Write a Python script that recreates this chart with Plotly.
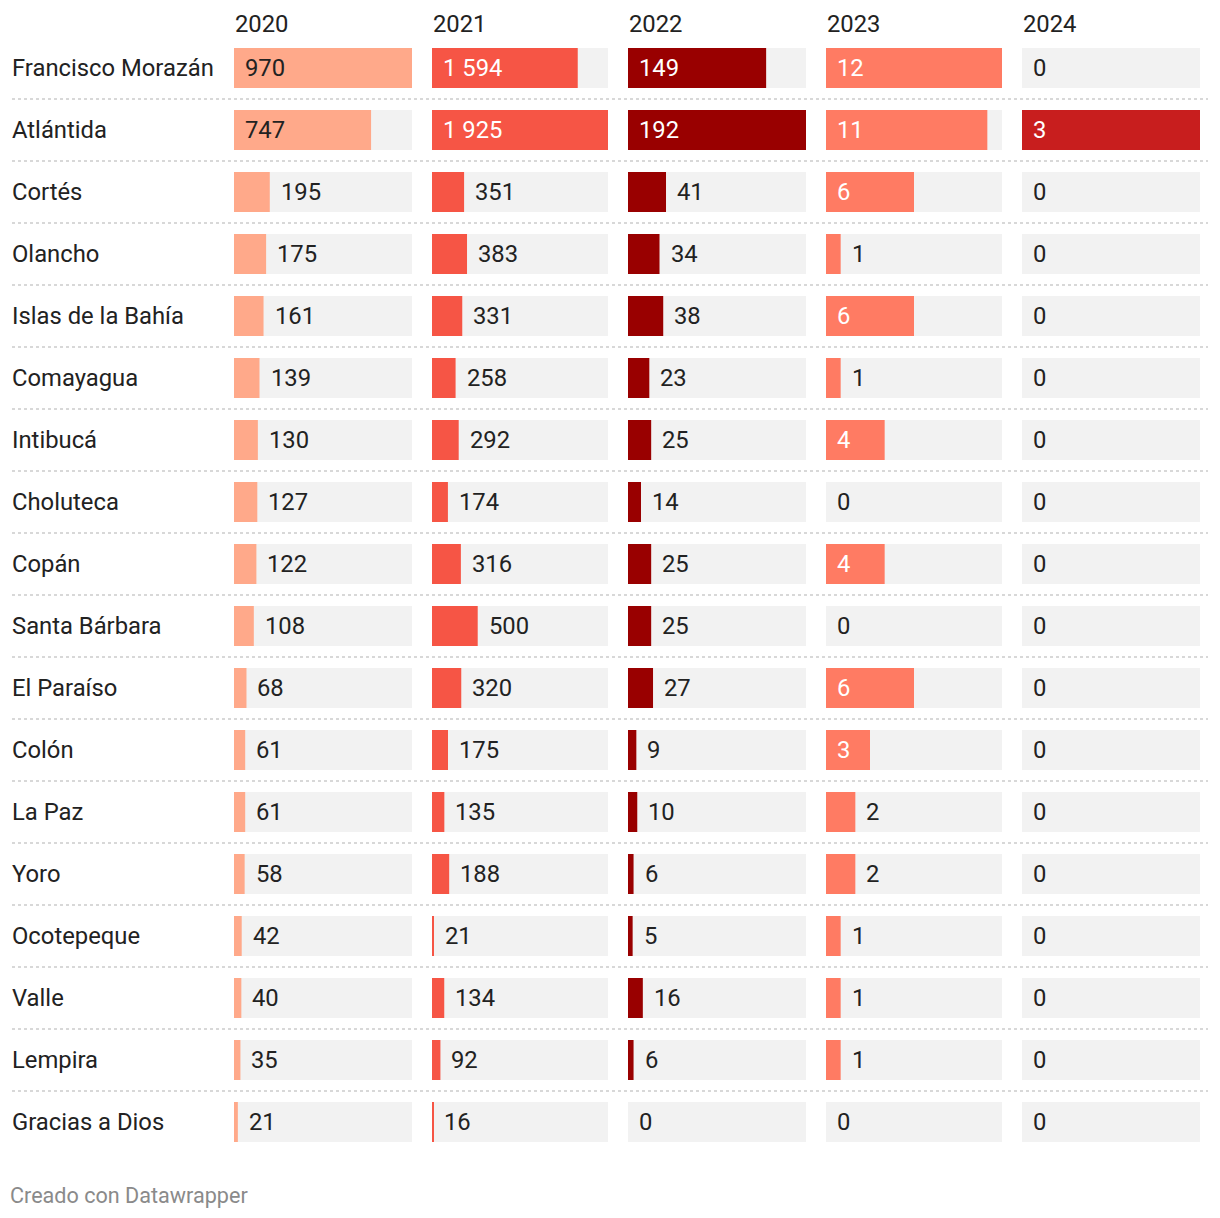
import plotly.graph_objects as go

departments = ["Francisco Morazán", "Atlántida", "Cortés", "Olancho", "Islas de la Bahía",
               "Comayagua", "Intibucá", "Choluteca", "Copán", "Santa Bárbara", "El Paraíso",
               "Colón", "La Paz", "Yoro", "Ocotepeque", "Valle", "Lempira", "Gracias a Dios"]
years = ["2020", "2021", "2022", "2023", "2024"]
v2020 = [970, 747, 195, 175, 161, 139, 130, 127, 122, 108, 68, 61, 61, 58, 42, 40, 35, 21]
v2021 = [1594, 1925, 351, 383, 331, 258, 292, 174, 316, 500, 320, 175, 135, 188, 21, 134, 92, 16]
v2022 = [149, 192, 41, 34, 38, 23, 25, 14, 25, 25, 27, 9, 10, 6, 5, 16, 6, 0]
v2023 = [12, 11, 6, 1, 6, 1, 4, 0, 4, 0, 6, 3, 2, 2, 1, 1, 1, 0]
v2024 = [0, 3, 0, 0, 0, 0, 0, 0, 0, 0, 0, 0, 0, 0, 0, 0, 0, 0]
series = [v2020, v2021, v2022, v2023, v2024]

colors = ["#FFA98A", "#F65545", "#990000", "#FF7B63", "#C81E1E"]
inside_text = ["#222222", "#FFFFFF", "#FFFFFF", "#FFFFFF", "#FFFFFF"]

W, H = 1220, 1218
OX, OY = 8, 8  # page body margin


def px(x):
    return (x - OX) / W


def py(y):
    return 1 - (y - OY) / H


FONT = "Roboto"
FS = 23.8
col_px = [(234, 412), (432, 608), (628, 806), (826, 1002), (1022, 1200)]
row_step = 62

fig = go.Figure()
n = len(departments)
bar_w = 40 / row_step
annotations = []
for i, (yr, vals) in enumerate(zip(years, series)):
    xa = "x" if i == 0 else f"x{i+1}"
    mx = max(max(vals), 1)
    fig.add_trace(go.Bar(y=departments, x=[mx] * n, orientation="h", xaxis=xa, yaxis="y",
                         marker=dict(color="#F2F2F2", line=dict(width=0)), width=bar_w,
                         hoverinfo="skip", showlegend=False))
    fig.add_trace(go.Bar(y=departments, x=vals, orientation="h", xaxis=xa, yaxis="y",
                         marker=dict(color=colors[i], line=dict(width=0)), width=bar_w,
                         name=yr, showlegend=False))
    width_px = col_px[i][1] - col_px[i][0]
    for d, v in zip(departments, vals):
        txt = f"{v:,}".replace(",", " ")
        bar_px = v / mx * width_px
        label_w = len(txt) * 0.56 * FS
        inside = v > 0 and bar_px >= label_w + 20
        annotations.append(dict(
            x=0 if inside else v, y=d, xref=xa, yref="y", text=txt, showarrow=False,
            xanchor="left", yanchor="middle", xshift=9,
            font=dict(family=FONT, size=FS, color=inside_text[i] if inside else "#222222")))
    annotations.append(dict(x=px(col_px[i][0]), y=py(24), xref="paper", yref="paper",
                            text=yr, showarrow=False, xanchor="left", yanchor="middle", xshift=-1,
                            font=dict(family=FONT, size=FS, color="#222222")))

for d in departments:
    annotations.append(dict(x=px(12), y=d, xref="paper", yref="y", text=d, showarrow=False,
                            xanchor="left", yanchor="middle", xshift=-2,
                            font=dict(family=FONT, size=FS, color="#222222")))

annotations.append(dict(x=px(10), y=py(1195), xref="paper", yref="paper",
                        text="Creado con Datawrapper", showarrow=False, xanchor="left",
                        yanchor="middle", xshift=-2,
                        font=dict(family=FONT, size=21.6, color="#8A8A8A")))

shapes = []
for k in range(n - 1):
    shapes.append(dict(type="line", xref="paper", yref="y", x0=px(12), x1=px(1208),
                       y0=k + 0.5, y1=k + 0.5, line=dict(color="#CCCCCC", width=1.5, dash="dot")))

layout = dict(
    width=W, height=H, margin=dict(l=0, r=0, t=0, b=0),
    paper_bgcolor="white", plot_bgcolor="white", barmode="overlay",
    annotations=annotations, shapes=shapes,
    yaxis=dict(type="category", categoryorder="array", categoryarray=departments,
               range=[n - 0.5, -0.5], domain=[py(1153), py(37)],
               showticklabels=False, showgrid=False, zeroline=False, fixedrange=True),
)
for i in range(5):
    key = "xaxis" if i == 0 else f"xaxis{i+1}"
    mx = max(max(series[i]), 1)
    layout[key] = dict(domain=[px(col_px[i][0]), px(col_px[i][1])], range=[0, mx],
                       anchor="y", showticklabels=False, showgrid=False, zeroline=False,
                       fixedrange=True)
fig.update_layout(**layout)
fig.write_html("out.html", config={"displayModeBar": False})
